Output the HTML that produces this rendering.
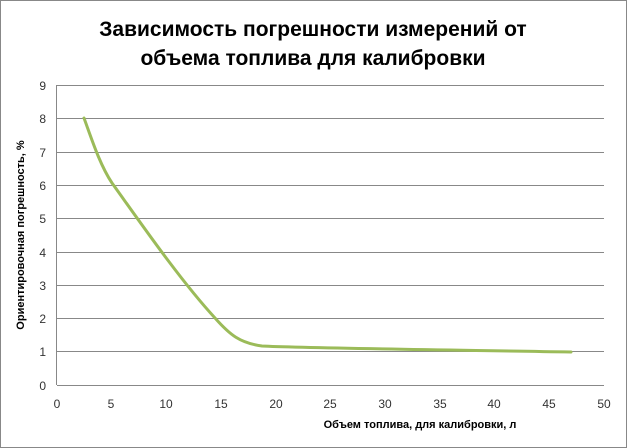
<!DOCTYPE html>
<html><head><meta charset="utf-8"><style>
body{margin:0;background:#fff}
svg{display:block;font-family:"Liberation Sans","DejaVu Sans",sans-serif}
</style></head><body>
<svg width="627" height="448" viewBox="0 0 627 448">
<rect x="0.5" y="0.5" width="626" height="447" fill="#fff" stroke="#888"/>
<text x="313" y="36" text-anchor="middle" font-size="21" font-weight="bold">Зависимость погрешности измерений от</text>
<text x="313" y="65" text-anchor="middle" font-size="21" font-weight="bold">объема топлива для калибровки</text>
<g stroke="#888" stroke-width="1">
<line x1="57" y1="85.5" x2="604" y2="85.5"/>
<line x1="57" y1="118.5" x2="604" y2="118.5"/>
<line x1="57" y1="152.5" x2="604" y2="152.5"/>
<line x1="57" y1="185.5" x2="604" y2="185.5"/>
<line x1="57" y1="218.5" x2="604" y2="218.5"/>
<line x1="57" y1="252.5" x2="604" y2="252.5"/>
<line x1="57" y1="285.5" x2="604" y2="285.5"/>
<line x1="57" y1="318.5" x2="604" y2="318.5"/>
<line x1="57" y1="351.5" x2="604" y2="351.5"/>
<line x1="57" y1="385.5" x2="604" y2="385.5"/>
<line x1="56.5" y1="85" x2="56.5" y2="385"/>
</g>
<g font-size="12" fill="#333" text-anchor="end">
<text x="46" y="90">9</text><text x="46" y="123">8</text><text x="46" y="157">7</text><text x="46" y="190">6</text><text x="46" y="223">5</text><text x="46" y="257">4</text><text x="46" y="290">3</text><text x="46" y="323">2</text><text x="46" y="356">1</text><text x="46" y="390">0</text>
</g>
<g font-size="12" fill="#333" text-anchor="middle">
<text x="57" y="408">0</text><text x="111" y="408">5</text><text x="166" y="408">10</text><text x="221" y="408">15</text><text x="276" y="408">20</text><text x="330" y="408">25</text><text x="385" y="408">30</text><text x="440" y="408">35</text><text x="494" y="408">40</text><text x="549" y="408">45</text><text x="604" y="408">50</text>
</g>
<text x="420" y="428" text-anchor="middle" font-size="11" font-weight="bold">Объем топлива, для калибровки,  л</text>
<text transform="translate(24,235) rotate(-90)" text-anchor="middle" font-size="11" font-weight="bold">Ориентировочная  погрешность, %</text>
<path d="M84,118 C92,140 100,165 112,183 C140,222 180,280 215,318 C230,335 240,343 262,346 C300,348 420,349.5 571,352" fill="none" stroke="#9bbb59" stroke-width="3" stroke-linecap="round"/>
</svg>
</body></html>
